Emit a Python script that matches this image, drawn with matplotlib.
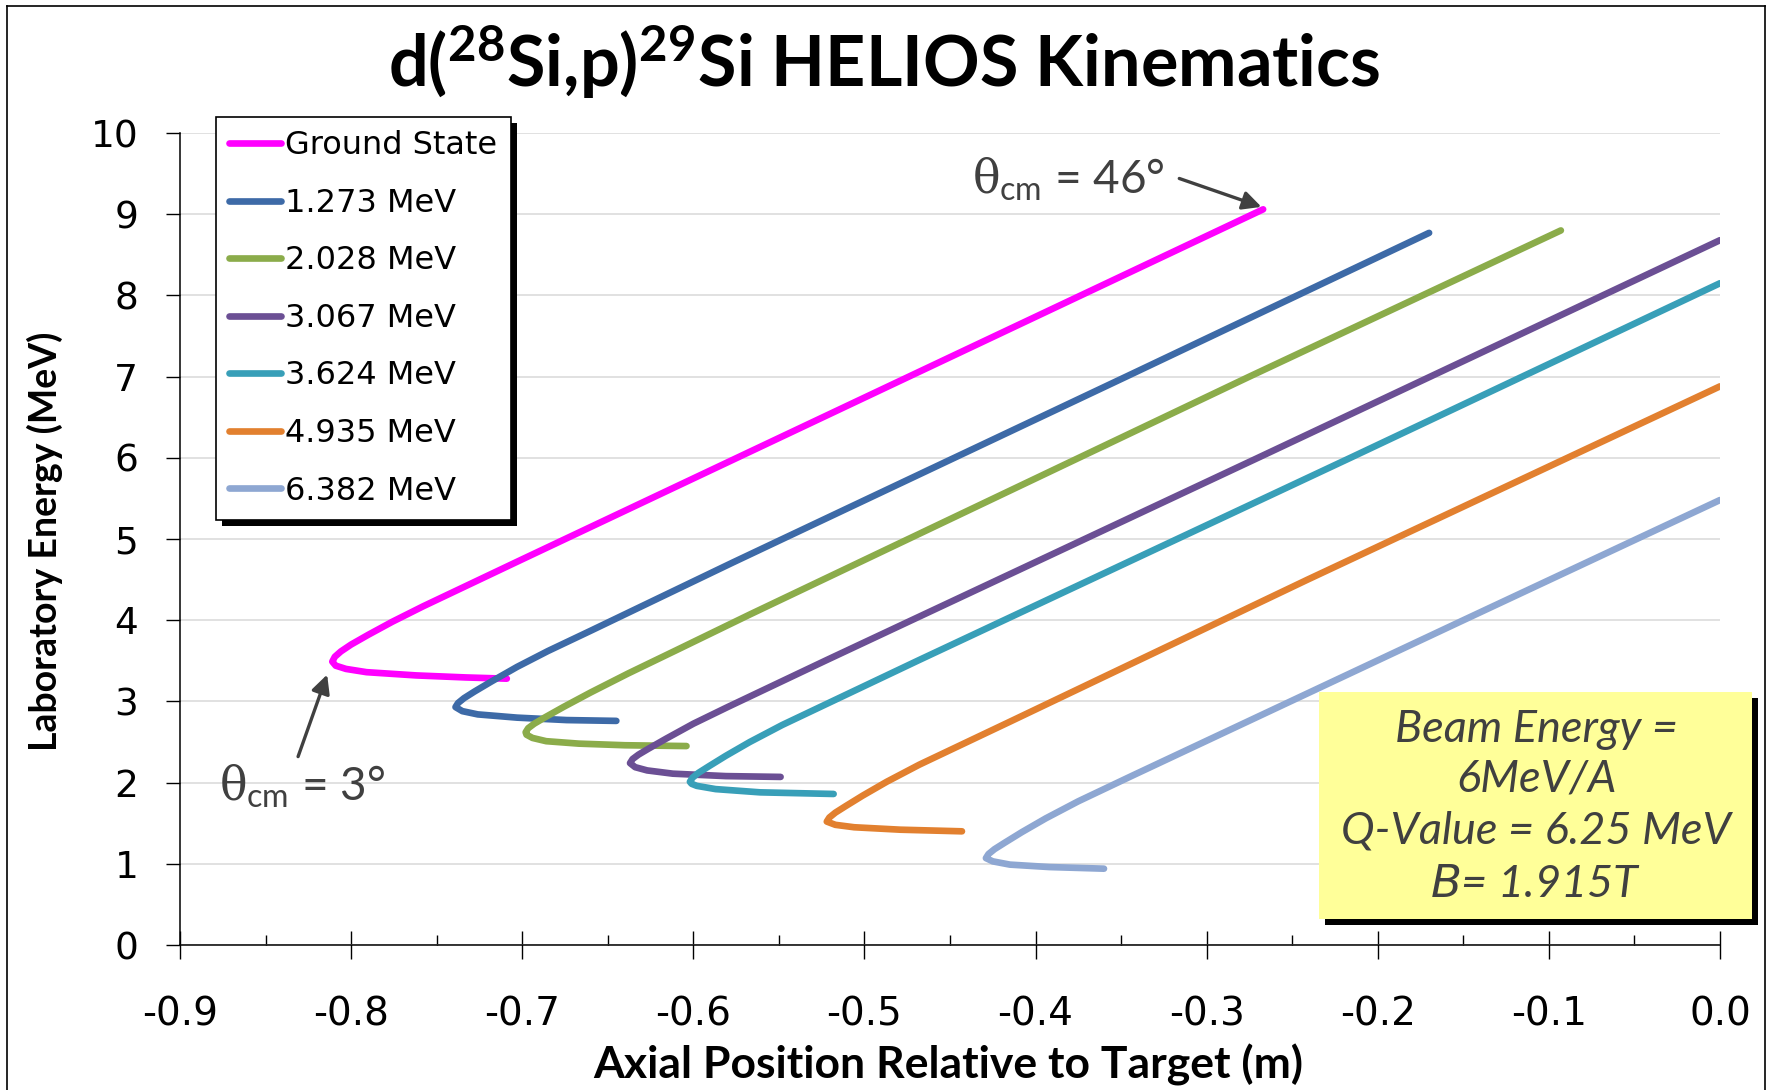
import matplotlib
matplotlib.use("Agg")
import matplotlib.pyplot as plt
from matplotlib.lines import Line2D
from matplotlib.patches import Rectangle
from matplotlib.ticker import AutoMinorLocator
from matplotlib.transforms import IdentityTransform

W, H, DPI = 1769, 1090, 100

plt.rcParams.update({
    "font.family": ["DejaVu Sans"],
    "mathtext.fontset": "custom",
    "mathtext.rm": "Lato",
    "mathtext.bf": "Lato:bold",
    "mathtext.it": "DejaVu Serif",
    "mathtext.sf": "DejaVu Sans:italic",
})

# proton laboratory energy (MeV) vs axial position (m), one branch per 29Si state
STATES = ["Ground State", "1.273 MeV", "2.028 MeV", "3.067 MeV",
          "3.624 MeV", "4.935 MeV", "6.382 MeV"]
COLORS = ["#FF00FF", "#3D6AA7", "#8BAC4A", "#6B4F94",
          "#389FB8", "#E2802F", "#8EA7D2"]

z_gs = [-0.709, -0.733, -0.762, -0.791, -0.803, -0.809, -0.811, -0.8095,
        -0.806, -0.800, -0.790, -0.776, -0.758, -0.733, -0.703, -0.474, -0.267]
e_gs = [3.28, 3.295, 3.32, 3.36, 3.40, 3.44, 3.49, 3.55,
        3.615, 3.70, 3.82, 3.98, 4.17, 4.42, 4.72, 7.00, 9.06]

z_1273 = [-0.645, -0.674, -0.703, -0.726, -0.735, -0.739, -0.7375, -0.734,
          -0.728, -0.718, -0.703, -0.685, -0.660, -0.577, -0.347, -0.170]
e_1273 = [2.76, 2.77, 2.80, 2.84, 2.88, 2.93, 2.98, 3.04,
          3.12, 3.245, 3.425, 3.62, 3.87, 4.71, 7.00, 8.77]

z_2028 = [-0.604, -0.640, -0.667, -0.686, -0.694, -0.6975, -0.698, -0.6965,
          -0.693, -0.687, -0.676, -0.660, -0.638, -0.610, -0.567, -0.275,
          -0.093]
e_2028 = [2.45, 2.46, 2.48, 2.51, 2.55, 2.59, 2.62, 2.67,
          2.725, 2.80, 2.93, 3.11, 3.345, 3.63, 4.07, 7.00,
          8.80]

z_3067 = [-0.549, -0.581, -0.612, -0.627, -0.634, -0.637, -0.6355, -0.632,
          -0.626, -0.616, -0.600, -0.580, -0.522, -0.270, 0.0]
e_3067 = [2.07, 2.08, 2.11, 2.15, 2.19, 2.24, 2.29, 2.345,
          2.42, 2.54, 2.725, 2.93, 3.51, 6.00, 8.68]

z_3624 = [-0.518, -0.561, -0.587, -0.598, -0.601, -0.602, -0.6005, -0.597,
          -0.591, -0.581, -0.567, -0.548, -0.520, -0.468, -0.216, 0.0]
e_3624 = [1.86, 1.88, 1.92, 1.96, 1.985, 2.01, 2.06, 2.12,
          2.20, 2.33, 2.50, 2.71, 2.99, 3.51, 6.00, 8.15]

z_4935 = [-0.443, -0.479, -0.506, -0.517, -0.522, -0.5205, -0.517, -0.511,
          -0.501, -0.487, -0.468, -0.440, -0.415, -0.241, 0.0]
e_4935 = [1.40, 1.42, 1.45, 1.48, 1.52, 1.57, 1.63, 1.71,
          1.84, 2.01, 2.22, 2.50, 2.75, 4.50, 6.88]

z_6382 = [-0.360, -0.392, -0.415, -0.425, -0.429, -0.4275, -0.424, -0.418,
          -0.408, -0.394, -0.375, -0.343, -0.150, 0.0]
e_6382 = [0.94, 0.96, 0.99, 1.03, 1.07, 1.12, 1.18, 1.26,
          1.39, 1.56, 1.77, 2.09, 4.00, 5.48]

Z = [z_gs, z_1273, z_2028, z_3067, z_3624, z_4935, z_6382]
E = [e_gs, e_1273, e_2028, e_3067, e_3624, e_4935, e_6382]

X_TICKS = [-0.9, -0.8, -0.7, -0.6, -0.5, -0.4, -0.3, -0.2, -0.1, 0.0]
X_TICK_LABELS = ["-0.9", "-0.8", "-0.7", "-0.6", "-0.5", "-0.4",
                 "-0.3", "-0.2", "-0.1", "0.0"]
Y_TICKS = list(range(0, 11))

BOX_LINES = ["Beam Energy =", "6MeV/A", "Q-Value = 6.25 MeV",
             r"$\mathsf{B}$= 1.915T"]

TEXT_GRAY = "#404040"


def fx(px):
    return px / W


def fy(py):
    return 1 - py / H


fig = plt.figure(figsize=(W / DPI, H / DPI), dpi=DPI)
ax = fig.add_axes([fx(180), fy(945), (1720 - 180) / W, (945 - 133) / H])

for z, e, lab, c in zip(Z, E, STATES, COLORS):
    ax.plot(z, e, color=c, lw=4.8, label=lab,
            solid_capstyle="round", solid_joinstyle="round", zorder=3)

ax.set_xlim(-0.9, 0.0)
ax.set_ylim(0, 10)
ax.set_xticks(X_TICKS)
ax.set_xticklabels(X_TICK_LABELS)
ax.set_yticks(Y_TICKS)
ax.xaxis.set_minor_locator(AutoMinorLocator(2))
ax.yaxis.grid(True, color="#D9D9D9", lw=1.1)
ax.set_axisbelow(True)
for s in ("top", "right"):
    ax.spines[s].set_visible(False)
for s in ("left", "bottom"):
    ax.spines[s].set_linewidth(1.1)
ax.tick_params(axis="x", which="major", direction="inout", length=20,
               width=1, pad=26, labelsize=28)
ax.tick_params(axis="x", which="minor", direction="in", length=7, width=1)
ax.tick_params(axis="y", direction="out", length=10, width=1, pad=20,
               labelsize=27)

fig.text(fx(884), fy(62),
         r"d($^{\mathbf{28}}$Si,p)$^{\mathbf{29}}$Si HELIOS Kinematics",
         ha="center", va="center", fontsize=50.5, fontweight="bold",
         family="Lato")
fig.text(fx(948), fy(1065), "Axial Position Relative to Target (m)",
         ha="center", va="center", fontsize=32, fontweight="bold",
         family="Lato")
fig.text(fx(45), fy(541), "Laboratory Energy (MeV)", rotation=90,
         ha="center", va="center", fontsize=27, fontweight="bold",
         family="Lato")

# angle markers at the ends of the ground-state branch
ax.annotate("", xy=(-0.268, 9.09), xytext=(-0.316, 9.44),
            arrowprops=dict(arrowstyle="-|>", color=TEXT_GRAY, lw=2.4,
                            mutation_scale=28, shrinkA=0, shrinkB=0))
ax.text(-0.437, 9.25, r"$\theta_{\rm cm}$ = 46°", fontsize=33,
        family="Lato", color=TEXT_GRAY, ha="left", va="baseline")
ax.annotate("", xy=(-0.814, 3.33), xytext=(-0.831, 2.32),
            arrowprops=dict(arrowstyle="-|>", color=TEXT_GRAY, lw=2.4,
                            mutation_scale=28, shrinkA=0, shrinkB=0))
ax.text(-0.877, 1.77, r"$\theta_{\rm cm}$ = 3°", fontsize=33,
        family="Lato", color=TEXT_GRAY, ha="left", va="baseline")

leg = ax.legend(loc="upper left", bbox_to_anchor=(fx(216), fy(117)),
                bbox_transform=fig.transFigure,
                prop={"family": "DejaVu Sans", "size": 23},
                handlelength=1.6, handletextpad=0.15, borderpad=0.42,
                labelspacing=0.83, borderaxespad=0, fancybox=False,
                edgecolor="black", framealpha=1)
leg.get_frame().set_linewidth(1.2)
leg.set_zorder(6)

# beam / reaction parameters box with drop shadow
bx0, bx1, by0, by1 = 1319, 1752, 692, 919
fig.add_artist(Rectangle((fx(bx0 + 6), fy(by1 + 6)), (bx1 - bx0) / W,
                         (by1 - by0) / H, transform=fig.transFigure,
                         facecolor="black", edgecolor="none", zorder=3))
fig.add_artist(Rectangle((fx(bx0), fy(by1)), (bx1 - bx0) / W,
                         (by1 - by0) / H, transform=fig.transFigure,
                         facecolor="#FFFF99", edgecolor="none", zorder=4))
for line, base in zip(BOX_LINES, [742, 792, 843, 897]):
    fig.text(fx(1536), fy(base), line, ha="center", va="baseline",
             fontsize=32.5, style="italic", family="Lato", color=TEXT_GRAY,
             zorder=5)

# outer frame
for xs, ys in [((7, 7), (6, H)), ((7, 1765), (6, 6)), ((1765, 1765), (6, H))]:
    fig.add_artist(Line2D([fx(x) for x in xs], [fy(y) for y in ys],
                          transform=fig.transFigure, color="black", lw=1.2))

fig.canvas.draw()
bb = leg.get_window_extent()
shadow = Rectangle((bb.x0 + 6, bb.y0 - 6), bb.width, bb.height,
                   transform=IdentityTransform(), facecolor="black",
                   edgecolor="none", zorder=5.9, clip_on=False)
ax.add_artist(shadow)

fig.savefig("out.png", dpi=DPI)
